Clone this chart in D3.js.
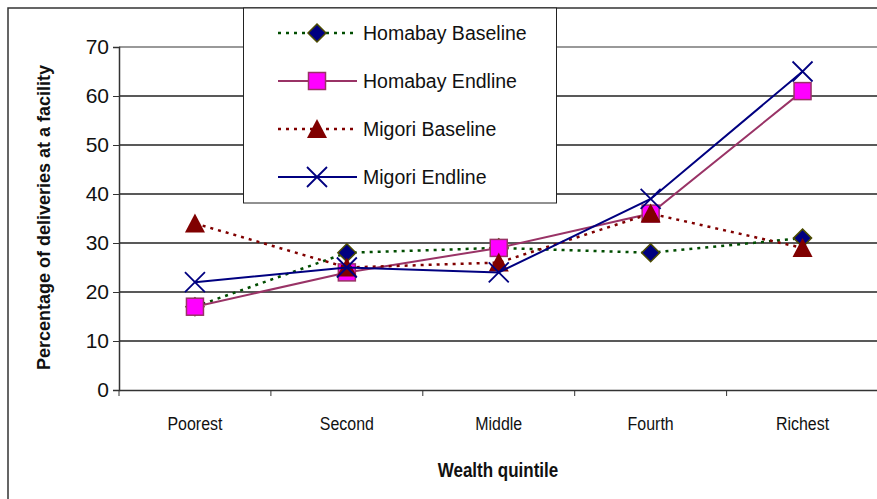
<!DOCTYPE html>
<html>
<head>
<meta charset="utf-8">
<script src="https://cdn.jsdelivr.net/npm/d3@7"></script>
<style>
  body { margin: 0; background: #fff; }
  svg { display: block; }
</style>
</head>
<body>
<div id="chart"></div>
<script>
  // Data
  const quintiles = ["Poorest", "Second", "Middle", "Fourth", "Richest"];
  const yTicks = [0, 10, 20, 30, 40, 50, 60, 70];
  const seriesNames = ["Homabay Baseline", "Homabay Endline", "Migori Baseline", "Migori Endline"];
  const homabayBaseline = [17, 28, 29, 28, 31];
  const homabayEndline = [17, 24, 29, 36, 61];
  const migoriBaseline = [34, 25, 26, 36, 29];
  const migoriEndline = [22, 25, 24, 39, 65];

  const width = 877;
  const height = 499;
  const margin = { top: 47, right: 0, bottom: 109, left: 119 };
  const font = "Arial, 'Liberation Sans', sans-serif";

  const series = [
    { name: seriesNames[0], values: homabayBaseline, line: "#004d00", dash: "3,5", marker: "diamond", fill: "#000080", stroke: "#4d4d00" },
    { name: seriesNames[1], values: homabayEndline, line: "#993366", dash: null, marker: "square", fill: "#ff00ff", stroke: "#993366" },
    { name: seriesNames[2], values: migoriBaseline, line: "#800000", dash: "3,5", marker: "triangle", fill: "#800000", stroke: "none" },
    { name: seriesNames[3], values: migoriEndline, line: "#000080", dash: null, marker: "x", fill: "none", stroke: "#000080" }
  ];

  const svg = d3.select("#chart")
    .append("svg")
    .attr("width", width)
    .attr("height", height);

  // Outer chart border
  svg.append("rect")
    .attr("x", 8).attr("y", 8)
    .attr("width", width + 10).attr("height", height + 10)
    .attr("fill", "#fff")
    .attr("stroke", "#333")
    .attr("stroke-width", 1.5);

  const x = d3.scaleBand()
    .domain(quintiles)
    .range([margin.left, width + 1.5]);

  const y = d3.scaleLinear()
    .domain([0, 70])
    .range([height - margin.bottom, margin.top]);

  // Gridlines
  svg.append("g")
    .selectAll("line")
    .data(yTicks.filter(d => d > 0))
    .enter()
    .append("line")
    .attr("x1", margin.left)
    .attr("x2", width)
    .attr("y1", d => y(d))
    .attr("y2", d => y(d))
    .attr("stroke", d => d === 70 ? "#999" : "#222")
    .attr("stroke-width", d => d === 70 ? 2 : 1.3);

  // Y axis
  svg.append("g")
    .attr("transform", `translate(${margin.left},0)`)
    .call(d3.axisLeft(y).tickValues(yTicks).tickSize(6).tickPadding(4))
    .call(g => g.select(".domain").attr("stroke", "#333").attr("stroke-width", 1.5))
    .call(g => g.selectAll(".tick line").attr("stroke", "#333"))
    .call(g => g.selectAll(".tick text")
      .attr("font-family", font)
      .attr("font-size", "21px")
      .attr("fill", "#111"));

  // X axis (narrow look: squeeze the text horizontally)
  svg.append("g")
    .attr("transform", `translate(0,${y(0)})`)
    .call(d3.axisBottom(x).tickSize(0).tickPadding(27))
    .call(g => g.select(".domain").attr("stroke", "#333").attr("stroke-width", 1.5))
    .call(g => g.selectAll(".tick text")
      .attr("font-family", font)
      .attr("font-size", "19px")
      .attr("transform", "scale(0.84,1)")
      .attr("fill", "#111"));

  // Category separators
  svg.append("g")
    .selectAll("line")
    .data(quintiles)
    .enter()
    .append("line")
    .attr("x1", d => x(d))
    .attr("x2", d => x(d))
    .attr("y1", y(0))
    .attr("y2", y(0) + 6)
    .attr("stroke", "#333");

  // Axis titles
  svg.append("text")
    .attr("transform", `translate(50,${(y(0) + y(70)) / 2 - 1}) rotate(-90)`)
    .attr("text-anchor", "middle")
    .attr("font-family", font)
    .attr("font-weight", "bold")
    .attr("font-size", "18px")
    .attr("fill", "#111")
    .text("Percentage of deliveries at a facility");

  svg.append("text")
    .attr("transform", `translate(${(margin.left + width) / 2},477) scale(0.85,1)`)
    .attr("text-anchor", "middle")
    .attr("font-family", font)
    .attr("font-weight", "bold")
    .attr("font-size", "20px")
    .attr("fill", "#111")
    .text("Wealth quintile");

  function drawMarker(g, s, cx, cy) {
    if (s.marker === "diamond") {
      g.append("path")
        .attr("d", `M${cx},${cy - 9}L${cx + 9},${cy}L${cx},${cy + 9}L${cx - 9},${cy}Z`)
        .attr("fill", s.fill).attr("stroke", s.stroke).attr("stroke-width", 1.5);
    } else if (s.marker === "square") {
      g.append("rect")
        .attr("x", cx - 8.5).attr("y", cy - 8.5)
        .attr("width", 17).attr("height", 17)
        .attr("fill", s.fill).attr("stroke", s.stroke).attr("stroke-width", 1.5);
    } else if (s.marker === "triangle") {
      g.append("path")
        .attr("d", `M${cx},${cy - 10}L${cx + 10},${cy + 9}L${cx - 10},${cy + 9}Z`)
        .attr("fill", s.fill);
    } else {
      g.append("path")
        .attr("d", `M${cx - 10},${cy - 10}L${cx + 10},${cy + 10}M${cx + 10},${cy - 10}L${cx - 10},${cy + 10}`)
        .attr("fill", "none").attr("stroke", s.stroke).attr("stroke-width", 1.8);
    }
  }

  const line = d3.line()
    .x((d, i) => x(quintiles[i]) + x.bandwidth() / 2)
    .y(d => y(d));

  series.forEach(s => {
    const g = svg.append("g");
    g.append("path")
      .datum(s.values)
      .attr("d", line)
      .attr("fill", "none")
      .attr("stroke", s.line)
      .attr("stroke-width", s.dash ? 2.5 : 2)
      .attr("stroke-dasharray", s.dash);
    s.values.forEach((v, i) => {
      drawMarker(g, s, x(quintiles[i]) + x.bandwidth() / 2, y(v));
    });
  });

  // Legend
  const legend = svg.append("g");
  legend.append("rect")
    .attr("x", 243.5).attr("y", 8)
    .attr("width", 313).attr("height", 195)
    .attr("fill", "#fff")
    .attr("stroke", "#222")
    .attr("stroke-width", 1);

  series.forEach((s, i) => {
    const ly = 33 + i * 48;
    const g = legend.append("g");
    g.append("line")
      .attr("x1", 278).attr("x2", 357)
      .attr("y1", ly).attr("y2", ly)
      .attr("stroke", s.line)
      .attr("stroke-width", s.dash ? 2.5 : 2)
      .attr("stroke-dasharray", s.dash);
    drawMarker(g, s, 317, ly);
    g.append("text")
      .attr("x", 363)
      .attr("y", ly)
      .attr("dy", "0.36em")
      .attr("font-family", font)
      .attr("font-size", "19.5px")
      .attr("fill", "#111")
      .text(s.name);
  });
</script>
</body>
</html>
